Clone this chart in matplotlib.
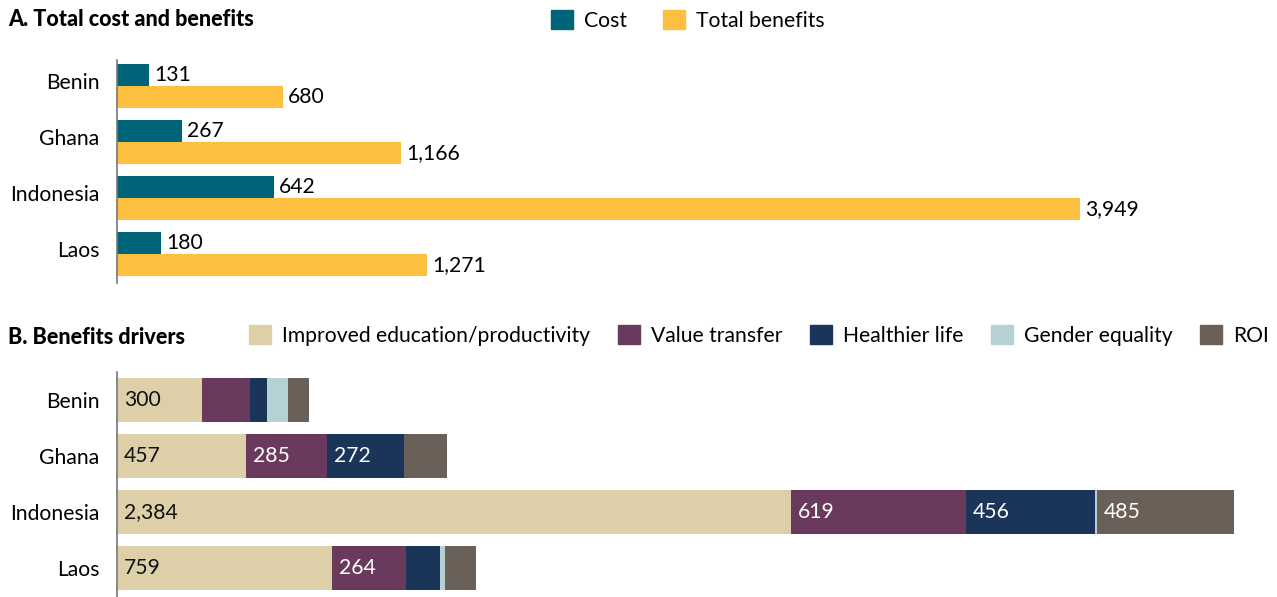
import matplotlib.pyplot as plt
import matplotlib
from matplotlib.patches import Patch
from matplotlib.transforms import ScaledTranslation
import numpy as np

matplotlib.rcParams['font.family'] = ['Lato', 'DejaVu Sans']

countries = ['Benin', 'Ghana', 'Indonesia', 'Laos']

# panel A
cost = [131, 267, 642, 180]
total_benefits = [680, 1166, 3949, 1271]

# panel B
drivers = ['Improved education/productivity', 'Value transfer', 'Healthier life',
           'Gender equality', 'ROI']
education = [300, 457, 2384, 759]
value_transfer = [170, 285, 619, 264]
healthier = [60, 272, 456, 120]
gender = [75, 0, 8, 18]
roi = [75, 152, 485, 110]

c_cost = '#006479'
c_ben = '#FDBF3F'
driver_colors = ['#DDD0A8', '#6A3A5C', '#1B355A', '#B6D1D3', '#6A6058']
label_colors = ['#111111', 'white', 'white', 'white', 'white']

FS = 15.2
W, H = 1277, 597
fig = plt.figure(figsize=(W / 100, H / 100), dpi=100)

def px_axes(left, top, right, bottom):
    return fig.add_axes([left / W, 1 - bottom / H, (right - left) / W, (bottom - top) / H])

def style(ax):
    for s in ['top', 'right', 'bottom']:
        ax.spines[s].set_visible(False)
    ax.spines['left'].set_color('#777777')
    ax.spines['left'].set_linewidth(1.2)
    ax.set_xticks([])
    ax.tick_params(axis='y', length=0, labelsize=FS, pad=12.5)

y = np.arange(len(countries))

# ---- A ----
axA = px_axes(117, 60, 1237, 283)
scale_a = 0.2439
bh = 0.39
axA.barh(y - bh / 2, cost, height=bh, color=c_cost)
axA.barh(y + bh / 2, total_benefits, height=bh, color=c_ben)
for i in range(len(countries)):
    axA.text(cost[i] + 5 / scale_a, y[i] - bh / 2, f'{cost[i]:,}', va='center', ha='left',
             fontsize=FS)
    axA.text(total_benefits[i] + 5 / scale_a, y[i] + bh / 2, f'{total_benefits[i]:,}',
             va='center', ha='left', fontsize=FS)
axA.set_xlim(0, 1120 / scale_a)
axA.set_ylim(3.52, -0.464)
axA.set_yticks(y)
axA.set_yticklabels(countries)
style(axA)
# country names in panel A sit a little above the group centre
for lab in axA.get_yticklabels():
    lab.set_transform(lab.get_transform() + ScaledTranslation(0, 5 / 100, fig.dpi_scale_trans))

fig.text(8 / W, 1 - 20 / H, 'A. Total cost and benefits', fontsize=15.5, fontweight='black',
         va='center', ha='left')
fig.legend(handles=[Patch(color=c_cost), Patch(color=c_ben)], labels=['Cost', 'Total benefits'],
           loc='center left', bbox_to_anchor=(551 / W, 1 - 20.5 / H), ncol=2, frameon=False,
           fontsize=FS, handlelength=1.04, handleheight=1.04, handletextpad=0.5,
           columnspacing=1.75, borderaxespad=0, borderpad=0)

# ---- B ----
axB = px_axes(117, 372, 1237, 597)
scale_b = 0.2827
bh = 0.786
series = [education, value_transfer, healthier, gender, roi]
left = np.zeros(len(countries))
for k, vals in enumerate(series):
    vals = np.array(vals)
    axB.barh(y, vals, left=left, height=bh, color=driver_colors[k])
    for i in range(len(countries)):
        if vals[i] >= 250:
            axB.text(left[i] + 7 / scale_b, y[i], f'{vals[i]:,}', va='center', ha='left',
                     fontsize=FS, color=label_colors[k])
    left += vals
axB.set_xlim(0, 1120 / scale_b)
axB.set_ylim(3.52, -0.5)
axB.set_yticks(y)
axB.set_yticklabels(countries)
style(axB)

fig.text(8 / W, 1 - 338 / H, 'B. Benefits drivers', fontsize=15.5, fontweight='black',
         va='center', ha='left')
fig.legend(handles=[Patch(color=c) for c in driver_colors], labels=drivers,
           loc='center left', bbox_to_anchor=(249 / W, 1 - 335.5 / H), ncol=5, frameon=False,
           fontsize=FS, handlelength=1.04, handleheight=1.04, handletextpad=0.53,
           columnspacing=1.3, borderaxespad=0, borderpad=0)

fig.savefig('out.png', dpi=100)
